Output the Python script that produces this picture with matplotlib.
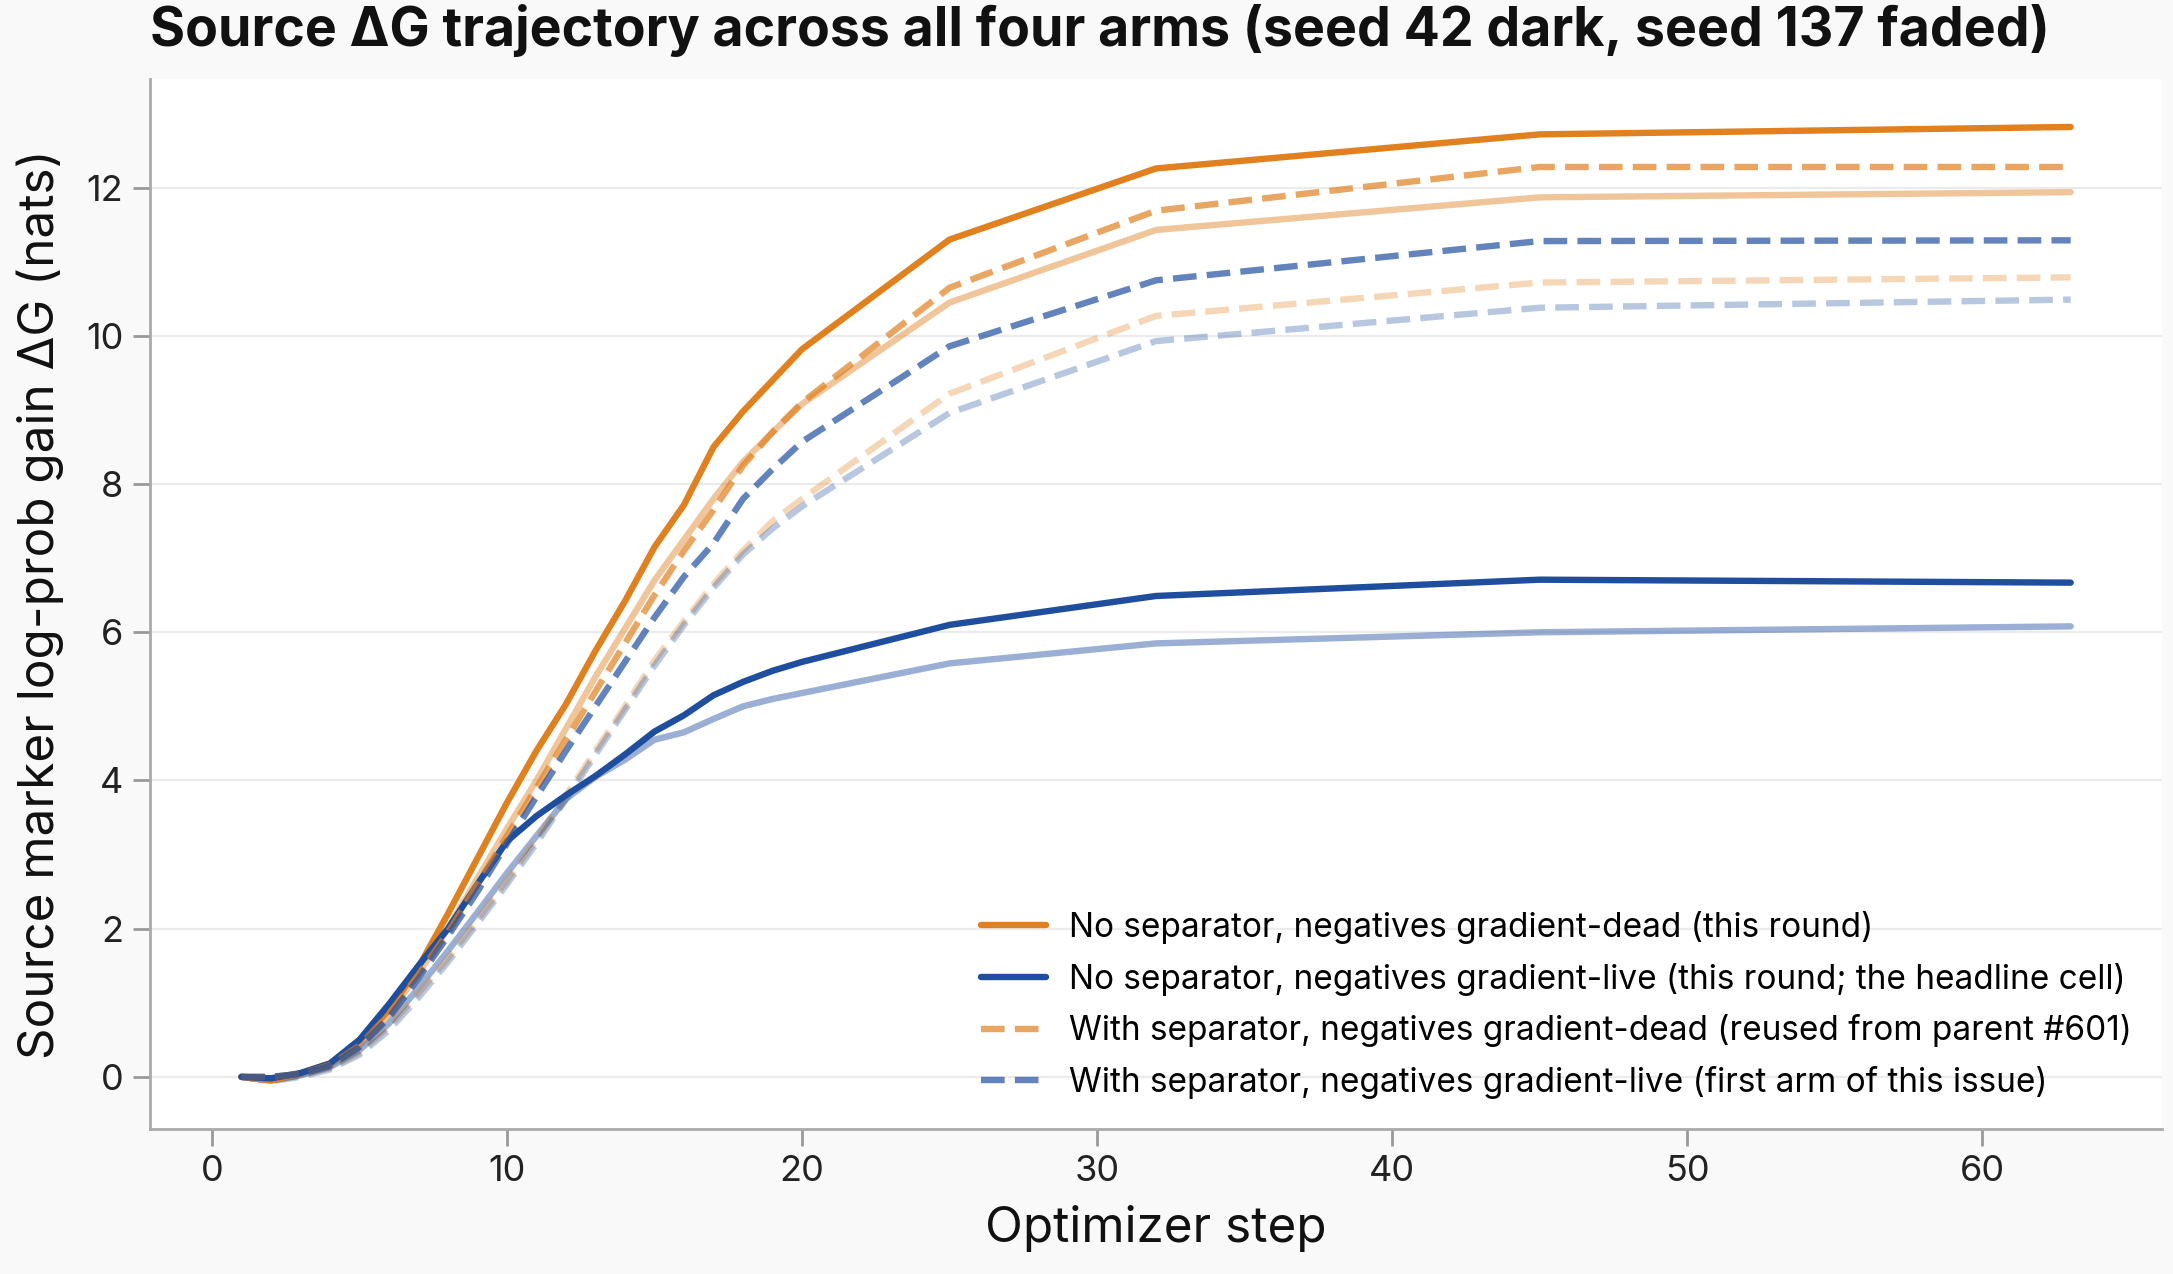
import numpy as np
import matplotlib
matplotlib.use("Agg")
import matplotlib.pyplot as plt

plt.rcParams["font.family"] = ["Inter", "DejaVu Sans"]

# Optimizer steps that were logged
steps = [1, 2, 3, 4, 5, 6, 7, 8, 9, 10, 11, 12, 13, 14, 15, 16, 17, 18, 19, 20, 25, 32, 45, 63]

# seed 42 (dark)
nosep_dead_42 = [0, -0.05, 0.05, 0.18, 0.48, 0.90, 1.48, 2.20, 2.95, 3.70, 4.40, 5.03, 5.75, 6.42,
                 7.15, 7.72, 8.50, 8.98, 9.40, 9.82, 11.30, 12.26, 12.72, 12.82]
nosep_live_42 = [0, -0.02, 0.05, 0.18, 0.50, 0.98, 1.50, 2.00, 2.60, 3.18, 3.52, 3.80, 4.06, 4.35,
                 4.66, 4.88, 5.15, 5.33, 5.48, 5.60, 6.10, 6.49, 6.71, 6.67]
sep_dead_42 = [0, 0.0, 0.04, 0.16, 0.42, 0.85, 1.38, 1.95, 2.60, 3.25, 3.90, 4.55, 5.20, 5.85,
               6.50, 7.10, 7.65, 8.25, 8.70, 9.10, 10.65, 11.69, 12.28, 12.28]
sep_live_42 = [0, 0.0, 0.04, 0.15, 0.40, 0.80, 1.33, 1.90, 2.50, 3.15, 3.78, 4.40, 5.00, 5.60,
               6.20, 6.75, 7.20, 7.80, 8.20, 8.57, 9.86, 10.75, 11.28, 11.29]

# seed 137 (faded)
nosep_dead_137 = [0, -0.04, 0.03, 0.15, 0.42, 0.85, 1.40, 2.00, 2.68, 3.35, 4.00, 4.70, 5.40, 6.05,
                  6.70, 7.25, 7.80, 8.30, 8.70, 9.08, 10.45, 11.43, 11.87, 11.94]
nosep_live_137 = [0, -0.05, 0.02, 0.13, 0.36, 0.72, 1.20, 1.70, 2.22, 2.75, 3.25, 3.75, 4.05, 4.28,
                  4.55, 4.65, 4.83, 5.00, 5.10, 5.18, 5.58, 5.85, 6.00, 6.08]
sep_dead_137 = [0, -0.05, 0.02, 0.12, 0.33, 0.68, 1.13, 1.60, 2.12, 2.65, 3.20, 3.80, 4.40, 5.00,
                5.62, 6.15, 6.65, 7.10, 7.50, 7.80, 9.22, 10.27, 10.72, 10.79]
sep_live_137 = [0, -0.06, 0.0, 0.10, 0.30, 0.63, 1.07, 1.55, 2.07, 2.60, 3.15, 3.75, 4.35, 4.95,
                5.55, 6.10, 6.60, 7.05, 7.40, 7.70, 8.96, 9.93, 10.38, 10.49]

labels = [
    "No separator, negatives gradient-dead (this round)",
    "No separator, negatives gradient-live (this round; the headline cell)",
    "With separator, negatives gradient-dead (reused from parent #601)",
    "With separator, negatives gradient-live (first arm of this issue)",
]

orange = "#e0801f"
blue = "#1f4e9e"

fig = plt.figure(figsize=(10.865, 6.37), dpi=200, facecolor="#f9f9f9")
ax = fig.add_axes([0.069, 0.1138, 0.926, 0.824])
ax.set_facecolor("white")

# arm -> (seed42 data, seed137 data, color, linestyle, base alpha)
arms = [
    (nosep_dead_42, nosep_dead_137, orange, "-", 1.0),
    (nosep_live_42, nosep_live_137, blue, "-", 1.0),
    (sep_dead_42, sep_dead_137, orange, "--", 0.7),
    (sep_live_42, sep_live_137, blue, "--", 0.7),
]

for (y42, y137, c, ls, a), lab in zip(arms, labels):
    ax.plot(steps, y137, color=c, ls=ls, alpha=a * 0.45, lw=2.3, solid_capstyle="round")
for (y42, y137, c, ls, a), lab in zip(arms, labels):
    ax.plot(steps, y42, color=c, ls=ls, alpha=a, lw=2.3, label=lab, solid_capstyle="round")

ax.set_xticks([0, 10, 20, 30, 40, 50, 60])
ax.set_yticks([0, 2, 4, 6, 8, 10, 12])
ax.grid(axis="y", color="#ebebeb", lw=0.8)
ax.set_axisbelow(True)
for s in ["top", "right"]:
    ax.spines[s].set_visible(False)
for s in ["left", "bottom"]:
    ax.spines[s].set_color("#aaaaaa")
    ax.spines[s].set_linewidth(1.0)
ax.tick_params(colors="#999999", labelcolor="#222222", labelsize=13, length=6, width=1.0)

ax.set_xlabel("Optimizer step", fontsize=17.8, color="#111111", labelpad=6)
ax.set_ylabel("Source marker log-prob gain ΔG (nats)", fontsize=17.8, color="#111111", labelpad=8)
ax.set_title("Source ΔG trajectory across all four arms (seed 42 dark, seed 137 faded)",
             loc="left", fontsize=19.3, fontweight="bold", color="#111111", pad=12)

ax.legend(loc="lower right", frameon=False, fontsize=12, handlelength=1.95,
          labelspacing=0.56, borderaxespad=0.5, handletextpad=0.7)

fig.savefig("out.png", dpi=200, facecolor=fig.get_facecolor())
